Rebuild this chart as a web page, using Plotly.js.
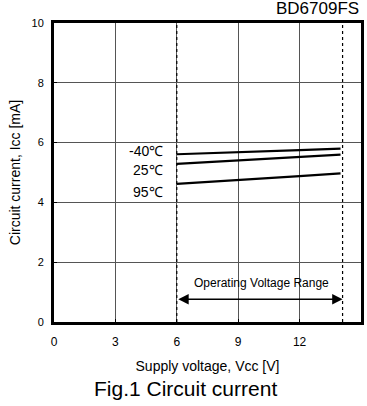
<!DOCTYPE html>
<html><head><meta charset="utf-8">
<script src="https://cdn.plot.ly/plotly-3.0.1.min.js"></script>
<style>body{margin:0;padding:0;background:#fff}#c{width:367px;height:406px}</style>
</head><body><div id="c"></div>
<script>
const voltage = [6, 8, 10, 12, 14];
const iccM40 = [5.61, 5.65, 5.70, 5.75, 5.80];
const icc25 = [5.29, 5.37, 5.45, 5.53, 5.60];
const icc95 = [4.62, 4.70, 4.79, 4.88, 4.97];
const seriesNames = ['-40℃', '25℃', '95℃'];
const labelY = [5.73, 5.08, 4.36];
const xTicks = [0, 3, 6, 9, 12, 15];
const yTicks = [0, 2, 4, 6, 8, 10];
const opRange = [6, 14.1];

const F = 'Arial, "Liberation Sans", sans-serif';
const traces = [iccM40, icc25, icc95].map((y, i) => ({
  x: voltage, y: y, mode: 'lines', name: seriesNames[i],
  line: {color: '#000', width: 2.2}, hoverinfo: 'skip'
}));

const shapes = opRange.map(v => ({
  type: 'line', xref: 'x', yref: 'paper', x0: v, x1: v, y0: 0, y1: 1,
  line: {color: '#000', width: 1.2, dash: 'dot'}
}));

const annotations = [
  {xref: 'x', yref: 'y', x: opRange[1], y: 0.76, ax: opRange[0], ay: 0.76, axref: 'x', ayref: 'y',
   text: '', showarrow: true, arrowhead: 2, startarrowhead: 2, arrowside: 'end+start',
   arrowsize: 1.3, arrowwidth: 1.6, arrowcolor: '#000'},
  {xref: 'x', yref: 'y', x: 10.15, y: 1.29, text: 'Operating Voltage Range', showarrow: false,
   font: {family: F, size: 12, color: '#000'}}
].concat(seriesNames.map((n, i) => ({
  xref: 'x', yref: 'y', x: 5.4, y: labelY[i], xanchor: 'right', text: n, showarrow: false,
  font: {family: F, size: 14, color: '#000'}
}))).concat([
  {xref: 'paper', yref: 'paper', x: 1.0, y: 1.01, xanchor: 'right', yanchor: 'bottom', text: 'BD6709FS', showarrow: false,
   font: {family: F, size: 17, color: '#000'}},
  {xref: 'paper', yref: 'paper', x: 0.428, y: -0.178, xanchor: 'center', yanchor: 'top', text: 'Fig.1 Circuit current', showarrow: false,
   font: {family: F, size: 21, color: '#000'}}
]);

const layout = {
  width: 367, height: 406,
  margin: {l: 54, r: 6, t: 23, b: 84},
  paper_bgcolor: '#fff', plot_bgcolor: '#fff',
  showlegend: false,
  font: {family: F, color: '#000', size: 11},
  xaxis: {range: [0, 15], tickvals: xTicks, ticktext: xTicks.map(String),
    showgrid: true, gridcolor: '#555', gridwidth: 1,
    showline: true, mirror: true, linecolor: '#000', linewidth: 3,
    ticks: 'inside', ticklen: 3, tickcolor: '#000', zeroline: false,
    tickfont: {family: F, size: 12, color: '#000'}, fixedrange: true, ticklabelstandoff: 7,
    title: {text: 'Supply voltage, Vcc [V]', font: {family: F, size: 14}, standoff: 13}},
  yaxis: {range: [0, 10], tickvals: yTicks, ticktext: yTicks.map(String),
    showgrid: true, gridcolor: '#555', gridwidth: 1,
    showline: true, mirror: true, linecolor: '#000', linewidth: 3,
    ticks: 'inside', ticklen: 3, tickcolor: '#000', zeroline: false,
    tickfont: {family: F, size: 11, color: '#000'}, fixedrange: true, ticklabelstandoff: 5,
    title: {text: 'Circuit current, Icc [mA]', font: {family: F, size: 14}, standoff: 8}},
  shapes: shapes,
  annotations: annotations
};
Plotly.newPlot('c', traces, layout, {displayModeBar: false, staticPlot: true});
</script></body></html>
